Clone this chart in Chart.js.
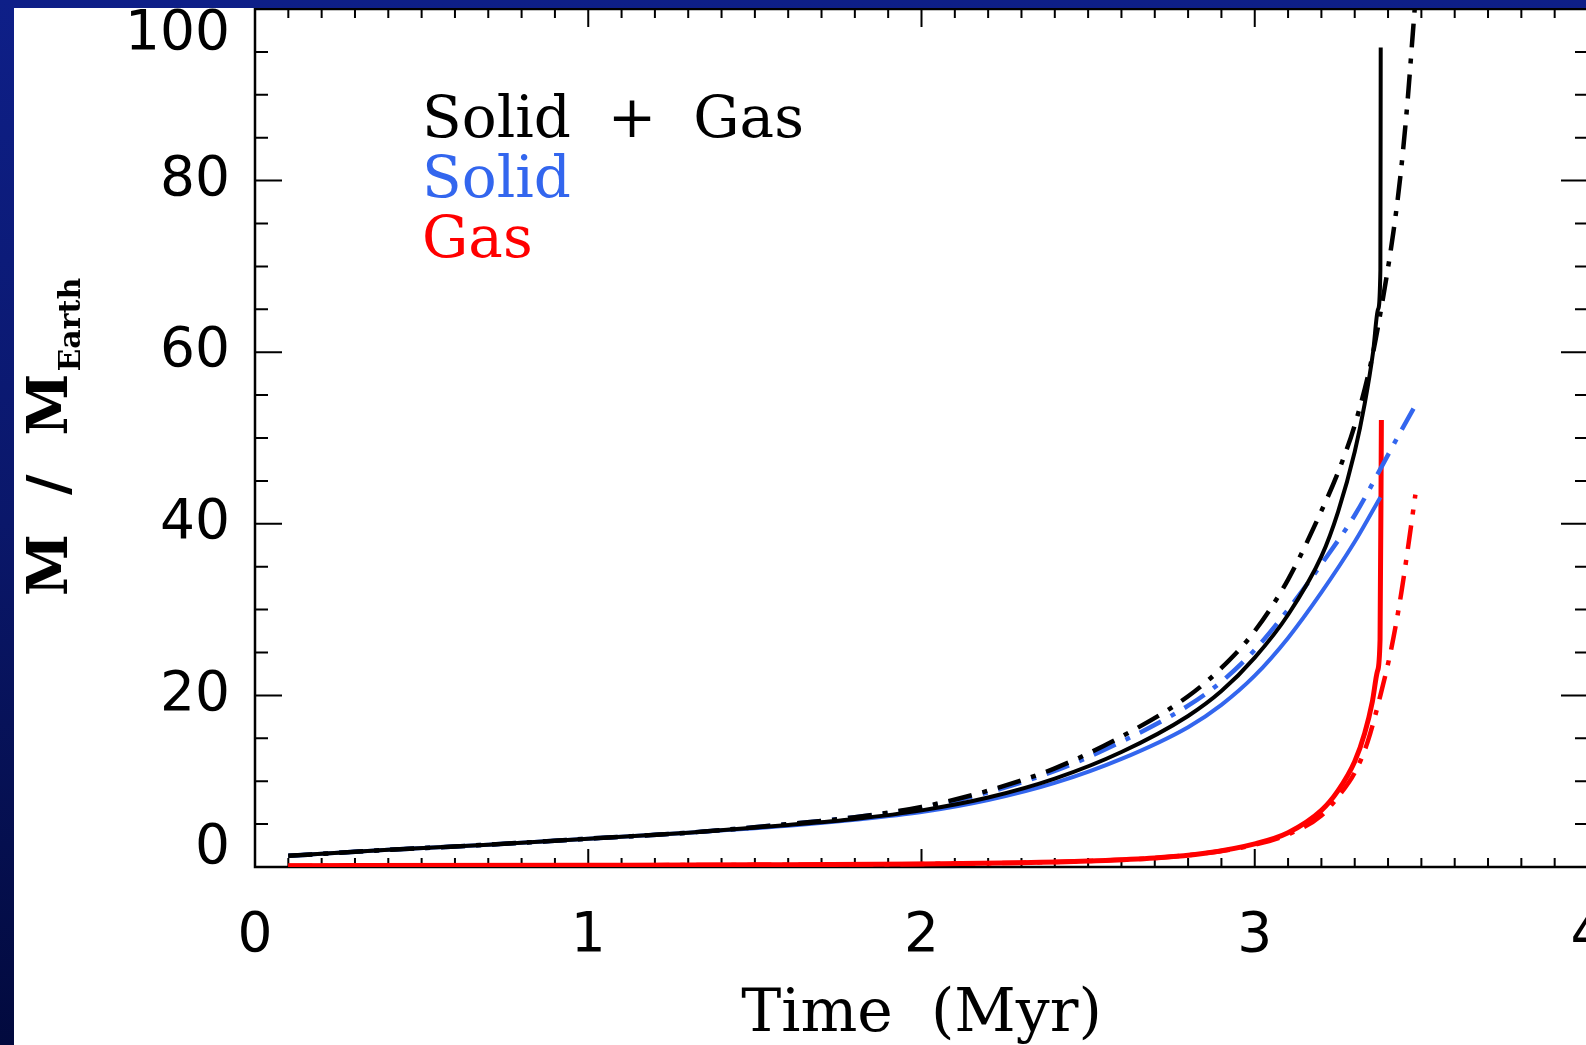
<!DOCTYPE html>
<html>
<head>
<meta charset="utf-8">
<script src="https://cdn.jsdelivr.net/npm/chart.js@4.4.1/dist/chart.umd.min.js"></script>
<style>
html, body { margin: 0; padding: 0; width: 1586px; height: 1045px; overflow: hidden;
  background: linear-gradient(to bottom, #0e1f88 0%, #0a176a 50%, #020a3e 100%); }
#box { position: absolute; left: 14px; top: 8px; width: 1620px; height: 1037px; background: #fff; }
</style>
</head>
<body>
<div id="box"><canvas id="myChart" width="1620" height="1037"></canvas></div>
<script>
// solid + gas, solid line run
var timeTotal = [0.1, 0.4, 0.7, 1.0, 1.3, 1.6, 1.8, 2.0, 2.2, 2.4, 2.6, 2.8, 2.9, 3.0, 3.1, 3.2, 3.25, 3.3, 3.33, 3.355, 3.37, 3.377, 3.378];
var massTotal = [1.3, 2.0, 2.6, 3.3, 4.0, 4.9, 5.6, 6.6, 8.1, 10.3, 13.4, 17.6, 20.5, 24.4, 29.4, 36.2, 41.4, 48.4, 54.0, 60.0, 65.0, 69.6, 95.5];
// solid + gas, dash-dot run
var timeTotalAlt = [0.1, 0.4, 0.7, 1.0, 1.3, 1.6, 1.8, 2.0, 2.2, 2.4, 2.6, 2.8, 2.9, 3.0, 3.1, 3.2, 3.25, 3.3, 3.35, 3.39, 3.416, 3.437, 3.458, 3.474, 3.482];
var massTotalAlt = [1.3, 2.0, 2.6, 3.3, 4.0, 5.0, 5.8, 7.0, 8.9, 11.5, 15.2, 19.9, 23.2, 27.5, 33.5, 41.5, 46.0, 51.5, 59.0, 67.5, 74.0, 80.5, 89.0, 97.0, 101.0];
// solid only
var timeSolid = [0.1, 0.4, 0.7, 1.0, 1.3, 1.6, 1.8, 2.0, 2.2, 2.4, 2.6, 2.8, 2.9, 3.0, 3.1, 3.2, 3.3, 3.377];
var massSolid = [1.3, 2.0, 2.6, 3.3, 4.0, 4.8, 5.5, 6.4, 7.8, 9.8, 12.6, 16.3, 18.9, 22.3, 26.7, 32.0, 37.9, 43.1];
var timeSolidAlt = [0.1, 0.4, 0.7, 1.0, 1.3, 1.6, 1.8, 2.0, 2.2, 2.4, 2.6, 2.8, 2.9, 3.0, 3.1, 3.2, 3.3, 3.38, 3.43, 3.482];
var massSolidAlt = [1.3, 2.0, 2.6, 3.3, 4.0, 5.0, 5.8, 6.9, 8.7, 11.2, 14.6, 18.8, 21.6, 25.3, 30.0, 35.3, 41.0, 46.6, 50.2, 53.8];
// gas only
var timeGas = [0.1, 1.0, 1.5, 2.0, 2.3, 2.5, 2.7, 2.85, 3.0, 3.1, 3.2, 3.25, 3.3, 3.33, 3.353, 3.368, 3.376, 3.38];
var massGas = [0.15, 0.2, 0.25, 0.35, 0.5, 0.7, 1.05, 1.6, 2.7, 4.0, 6.6, 8.9, 12.3, 15.6, 19.3, 22.8, 26.5, 52.1];
var timeGasAlt = [0.1, 1.0, 1.5, 2.0, 2.3, 2.5, 2.7, 2.85, 3.0, 3.1, 3.2, 3.25, 3.3, 3.338, 3.377, 3.41, 3.44, 3.462, 3.482];
var massGasAlt = [0.15, 0.2, 0.25, 0.35, 0.5, 0.7, 1.05, 1.6, 2.6, 3.8, 6.0, 8.2, 11.0, 14.5, 20.0, 25.5, 32.0, 37.8, 43.4];

var legendLabels = ['Solid  +  Gas', 'Solid', 'Gas'];
var legendColors = ['#000000', '#3366ee', '#ff0000'];
var xTickLabels = ['0', '1', '2', '3', '4'];
var yTickLabels = [0, 20, 40, 60, 80, 100];
var xTitle = 'Time  (Myr)';

function pts(ts, ms) {
  return ts.map(function (t, i) { return {x: t, y: ms[i]}; });
}
function isInt(v) { return Math.abs(v - Math.round(v)) < 1e-6; }

var dashDot = [24, 11, 5, 11];

var frameTicks = {
  id: 'frameTicks',
  beforeDatasetsDraw: function (chart) {
    var ctx = chart.ctx, a = chart.chartArea, xs = chart.scales.x, ys = chart.scales.y;
    ctx.save();
    ctx.strokeStyle = '#000';
    ctx.lineWidth = 2;
    ctx.beginPath();
    xs.ticks.forEach(function (t) {
      var p = xs.getPixelForValue(t.value);
      var len = isInt(t.value) ? 18 : 9;
      ctx.moveTo(p, a.bottom); ctx.lineTo(p, a.bottom - len);
      ctx.moveTo(p, a.top); ctx.lineTo(p, a.top + len);
    });
    ys.ticks.forEach(function (t) {
      var p = ys.getPixelForValue(t.value);
      var len = (Math.round(t.value) % 20 === 0) ? 27 : 13;
      ctx.moveTo(a.left, p); ctx.lineTo(a.left + len, p);
      ctx.moveTo(a.right, p); ctx.lineTo(a.right - len, p);
    });
    ctx.stroke();
    ctx.lineWidth = 2.5;
    ctx.strokeRect(a.left, a.top, a.right - a.left, a.bottom - a.top);
    ctx.restore();
  },
  afterDraw: function (chart) {
    var ctx = chart.ctx, a = chart.chartArea;
    ctx.save();
    // legend text
    ctx.font = '58px "DejaVu Serif"';
    ctx.textAlign = 'left';
    ctx.textBaseline = 'alphabetic';
    legendLabels.forEach(function (s, i) {
      ctx.fillStyle = legendColors[i];
      ctx.fillText(s, a.left + 167, a.top + 128 + i * 60);
    });
    // y axis title with subscript
    ctx.translate(53, 588);
    ctx.rotate(-Math.PI / 2);
    ctx.fillStyle = '#000';
    ctx.font = 'bold 56px "DejaVu Serif"';
    var main = 'M  /  M';
    ctx.fillText(main, 0, 0);
    var w = ctx.measureText(main).width;
    ctx.font = 'bold 30px "DejaVu Serif"';
    ctx.fillText('Earth', w + 2, 13);
    ctx.restore();
  }
};

var ctx = document.getElementById('myChart');
var myChart = new Chart(ctx, {
  type: 'line',
  data: {
    datasets: [
      {label: 'Solid + Gas', data: pts(timeTotal, massTotal), borderColor: '#000000', borderWidth: 4, order: 1},
      {label: 'Solid + Gas (alt)', data: pts(timeTotalAlt, massTotalAlt), borderColor: '#000000', borderWidth: 4.5, borderDash: dashDot, order: 2},
      {label: 'Solid', data: pts(timeSolid, massSolid), borderColor: '#3366ee', borderWidth: 4, order: 3},
      {label: 'Solid (alt)', data: pts(timeSolidAlt, massSolidAlt), borderColor: '#3366ee', borderWidth: 4.5, borderDash: dashDot, order: 4},
      {label: 'Gas', data: pts(timeGas, massGas), borderColor: '#ff0000', borderWidth: 5, order: 5},
      {label: 'Gas (alt)', data: pts(timeGasAlt, massGasAlt), borderColor: '#ff0000', borderWidth: 4.5, borderDash: dashDot, order: 6}
    ]
  },
  options: {
    responsive: false,
    animation: false,
    layout: {padding: {left: 0, top: 1, right: 46, bottom: 0}},
    elements: {
      point: {radius: 0},
      line: {fill: false, cubicInterpolationMode: 'monotone'}
    },
    plugins: {legend: {display: false}, tooltip: {enabled: false}},
    scales: {
      x: {
        type: 'linear', min: 0, max: 4,
        grid: {display: false, drawTicks: false},
        border: {display: false},
        ticks: {
          stepSize: 0.1, autoSkip: false, maxRotation: 0, minRotation: 0, padding: 37,
          color: '#000', font: {family: 'DejaVu Sans', size: 55, lineHeight: 1.2},
          callback: function (v) { return isInt(v) ? xTickLabels[Math.round(v)] : ''; }
        },
        title: {
          display: true, text: xTitle, color: '#000',
          font: {family: 'DejaVu Serif', size: 60, lineHeight: 1},
          padding: {top: 3, bottom: 0}
        },
        afterFit: function (s) { s.height = 178; s.paddingLeft = 0; s.paddingRight = 0; }
      },
      y: {
        type: 'linear', min: 0, max: 100,
        grid: {display: false, drawTicks: false},
        border: {display: false},
        ticks: {
          stepSize: 5, autoSkip: false, padding: 25, color: '#000',
          font: function (c) {
            var lh = 0.95;
            if (c.tick && c.tick.value === 0) lh = 0.65;
            return {family: 'DejaVu Sans', size: 55, lineHeight: lh};
          },
          callback: function (v) {
            if (yTickLabels.indexOf(v) < 0) return '';
            if (v === 100) return ['', '100'];
            if (v === 0) return ['0', ''];
            return String(v);
          }
        },
        afterFit: function (s) { s.width = 241; s.paddingTop = 0; s.paddingBottom = 0; }
      }
    }
  },
  plugins: [frameTicks]
});
</script>
</body>
</html>
